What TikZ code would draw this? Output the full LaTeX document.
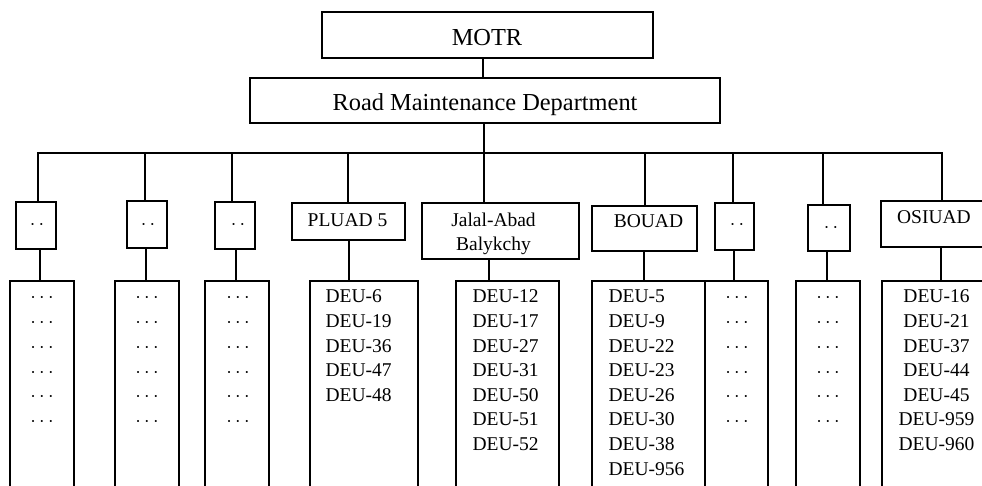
\documentclass[tikz,border=0pt]{standalone}
\usepackage{fontspec}
\setmainfont{Liberation Serif}
\usetikzlibrary{fit}
\begin{document}
\begin{tikzpicture}[x=0.5pt,y=-0.5pt,line width=0.55pt,
  box/.style={draw, inner sep=0pt},
  big/.style={font=\fontsize{12.2}{14.6}\selectfont, inner sep=0pt},
  sub/.style={font=\fontsize{9.75}{11.7}\selectfont, inner sep=0pt}]
\useasboundingbox (0,0) rectangle (982,486);
\clip (0,0) rectangle (982,486);

% upper boxes
\node[box, fit={(322,12) (653,58)}] (motr) {};
\node[box, fit={(250,78) (720,123)}] (rmd) {};
% second level
\node[box, fit={(16,202) (56,249)}] (s1) {};
\node[box, fit={(127,201) (167,248)}] (s2) {};
\node[box, fit={(215,202) (255,249)}] (s3) {};
\node[box, fit={(292,203) (405,240)}] (pluad) {};
\node[box, fit={(422,203) (579,259)}] (jalal) {};
\node[box, fit={(592,206) (697,251)}] (bouad) {};
\node[box, fit={(715,203) (754,250)}] (s4) {};
\node[box, fit={(808,205) (850,251)}] (s5) {};
\node[box, fit={(881,201) (1000,247)}] (osiuad) {};
% tall list boxes
\node[box, fit={(10,281) (74,500)}] (t1) {};
\node[box, fit={(115,281) (179,500)}] (t2) {};
\node[box, fit={(205,281) (269,500)}] (t3) {};
\node[box, fit={(310,281) (418,500)}] (tp) {};
\node[box, fit={(456,281) (559,500)}] (tj) {};
\node[box, fit={(592,281) (705,500)}] (tb) {};
\node[box, fit={(705,281) (768,500)}] (t4) {};
\node[box, fit={(796,281) (860,500)}] (t5) {};
\node[box, fit={(882,281) (1000,500)}] (tos) {};

% texts
\node[big, anchor=base] (motr-t) at (487,46) {MOTR};
\node[big, anchor=base] (rmd-t) at (485,111) {Road Maintenance Department};
\node[sub, anchor=base] (pluad-t) at (347.5,227) {PLUAD 5};
\node[sub, anchor=base] (jalal-t1) at (493.5,227) {Jalal-Abad};
\node[sub, anchor=base] (jalal-t2) at (493.5,251) {Balykchy};
\node[sub, anchor=base] (bouad-t) at (648.5,228) {BOUAD};
\node[sub, anchor=base] (osiuad-t) at (934,224) {OSIUAD};
\foreach \x/\y/\n in {37/230/s1,148/230/s2,238/230/s3,737/230/s4,831/233/s5}
  \node[sub, anchor=base] (\n-t) at (\x,\y) {$\cdotp\cdotp$};

% lists
\foreach \t [count=\i] in {DEU-6,DEU-19,DEU-36,DEU-47,DEU-48}
  \node[sub, anchor=base west] (tp-\i) at (325,{303+24.6*(\i-1)}) {\t};
\foreach \t [count=\i] in {DEU-12,DEU-17,DEU-27,DEU-31,DEU-50,DEU-51,DEU-52}
  \node[sub, anchor=base west] (tj-\i) at (472,{303+24.6*(\i-1)}) {\t};
\foreach \t [count=\i] in {DEU-5,DEU-9,DEU-22,DEU-23,DEU-26,DEU-30,DEU-38,DEU-956}
  \node[sub, anchor=base west] (tb-\i) at (608,{303+24.6*(\i-1)}) {\t};
\foreach \t [count=\i] in {DEU-16,DEU-21,DEU-37,DEU-44,DEU-45,DEU-959,DEU-960}
  \node[sub, anchor=base] (tos-\i) at (936.5,{303+24.6*(\i-1)}) {\t};
\foreach \x/\n in {42/t1,147/t2,238/t3,737/t4,828/t5}
  \foreach \i in {1,...,6}
    \node[sub, anchor=base] (\n-\i) at (\x,{303+24.7*(\i-1)}) {$\cdots$};

% connectors
\coordinate (c0) at (483,0);
\draw (c0 |- motr.south) -- (c0 |- rmd.north);
\coordinate (busL) at (38,153);
\coordinate (busR) at (942,153);
\coordinate (c1) at (484,0);
\draw (c1 |- rmd.south) -- (c1 |- busL);
\draw (busL |- s1.north) -- (busL) -- (busR) -- (busR |- osiuad.north);
\foreach \x/\n in {145/s2,232/s3,348/pluad,484/jalal,645/bouad,733/s4,823/s5}{
  \coordinate (d-\n) at (\x,153);
  \draw (d-\n) -- (d-\n |- \n.north);
}
\foreach \x/\a/\b in {40/s1/t1,146/s2/t2,236/s3/t3,349/pluad/tp,489/jalal/tj,644/bouad/tb,734/s4/t4,827/s5/t5,941/osiuad/tos}{
  \coordinate (u-\a) at (\x,0);
  \draw (u-\a |- \a.south) -- (u-\a |- \b.north);
}
\end{tikzpicture}
\end{document}
